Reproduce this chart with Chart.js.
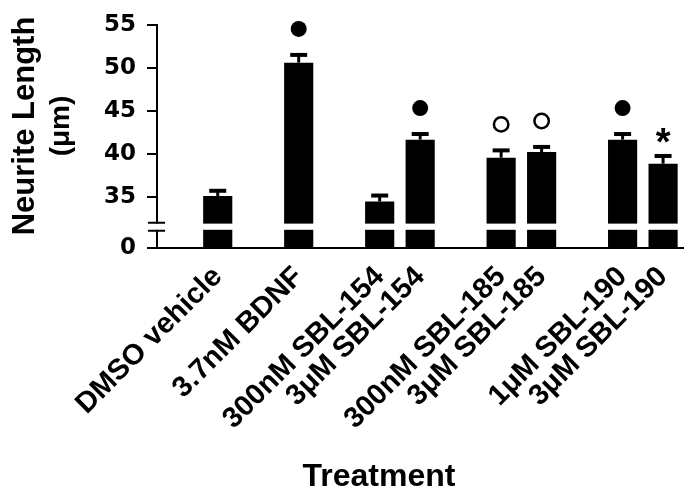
<!DOCTYPE html>
<html>
<head>
<meta charset="utf-8">
<script src="https://cdn.jsdelivr.net/npm/chart.js@4"></script>
<style>
  html, body { margin: 0; padding: 0; background: #fff; }
  #wrap { width: 692px; height: 495px; }
</style>
</head>
<body>
<div id="wrap"><canvas id="myChart"></canvas></div>
<script>
var categories = ["DMSO vehicle", "3.7nM BDNF", "300nM SBL-154", "3μM SBL-154",
  "300nM SBL-185", "3μM SBL-185", "1μM SBL-190", "3μM SBL-190"];
var groups = [0, 1, 2, 2, 3, 3, 4, 4];
var neuriteLength = [35.1, 50.6, 34.45, 41.65, 39.55, 40.2, 41.65, 38.85];
var sem = [0.6, 0.9, 0.7, 0.65, 0.85, 0.6, 0.65, 0.9];
var marks = ["", "●", "", "●", "○", "○", "●", "*"];
var yTicks = [0, 35, 40, 45, 50, 55];

// broken y axis: 0-2 kept as is, 32-55 pulled down next to it
var breakLow = 2, breakHigh = 32, shift = 29.05;
function toAxis(v) { return v <= breakLow ? v : v - shift; }

// blank slot before every group gives the gaps between bars
var labels = [], values = [], slotOf = [];
var last = -1;
categories.forEach(function (c, i) {
  if (groups[i] !== last) { labels.push(""); values.push(null); last = groups[i]; }
  slotOf.push(labels.length);
  labels.push(c);
  values.push(toAxis(neuriteLength[i]));
});

var ARIAL = "'Liberation Sans', Arial, sans-serif";

var extras = {
  id: "extras",
  afterDatasetsDraw: function (chart) {
    var c = chart.ctx, y = chart.scales.y, area = chart.chartArea;
    var meta = chart.getDatasetMeta(0);
    c.save();
    var yTop = y.getPixelForValue(breakHigh - shift), yBot = y.getPixelForValue(breakLow);
    c.fillStyle = "#fff";
    c.fillRect(area.left - 12, yTop + 1, area.right - area.left + 14, yBot - yTop - 2);
    c.strokeStyle = "#000";
    c.fillStyle = "#000";
    c.lineWidth = 2;
    c.beginPath();
    c.moveTo(area.left - 9, yTop); c.lineTo(area.left + 8, yTop);
    c.moveTo(area.left - 9, yBot); c.lineTo(area.left + 8, yBot);
    c.stroke();

    categories.forEach(function (cat, i) {
      var bar = meta.data[slotOf[i]];
      var top = y.getPixelForValue(toAxis(neuriteLength[i]));
      var cap = y.getPixelForValue(toAxis(neuriteLength[i] + sem[i]));
      c.lineWidth = 3;
      c.beginPath(); c.moveTo(bar.x, top); c.lineTo(bar.x, cap); c.stroke();
      c.lineWidth = 4;
      c.beginPath(); c.moveTo(bar.x - 8.5, cap); c.lineTo(bar.x + 8.5, cap); c.stroke();

      if (marks[i] === "●") {
        c.beginPath(); c.arc(bar.x, cap - 26, 8, 0, Math.PI * 2); c.fill();
      } else if (marks[i] === "○") {
        c.lineWidth = 2.5;
        c.beginPath(); c.arc(bar.x, cap - 26, 7.2, 0, Math.PI * 2); c.stroke();
      } else if (marks[i]) {
        c.font = "bold 38px " + ARIAL;
        c.textAlign = "center";
        c.textBaseline = "alphabetic";
        var m = c.measureText(marks[i]);
        var cy = cap - 20;
        c.fillText(marks[i], bar.x, cy + (m.actualBoundingBoxAscent - m.actualBoundingBoxDescent) / 2);
      }
    });
    c.restore();
  },
  afterDraw: function (chart) {
    var c = chart.ctx;
    c.save();
    c.fillStyle = "#000";
    c.textAlign = "center";
    c.textBaseline = "alphabetic";
    c.font = "bold 32px " + ARIAL;
    c.fillText("Treatment", 379, 486);
    // y axis title, two lines
    c.translate(0, 126);
    c.rotate(-Math.PI / 2);
    c.textBaseline = "middle";
    c.font = "bold 31px " + ARIAL;
    c.fillText("Neurite Length", 0, 25);
    c.font = "bold 28px " + ARIAL;
    c.fillText("(μm)", 0, 61);
    c.restore();
  }
};

var ctx = document.getElementById("myChart").getContext("2d");
var myChart = new Chart(ctx, {
  type: "bar",
  data: {
    labels: labels,
    datasets: [
      {
        label: "Neurite Length",
        data: values,
        backgroundColor: "#000",
        borderWidth: 0,
      },
    ],
  },
  options: {
    responsive: true,
    maintainAspectRatio: false,
    animation: false,
    layout: { padding: { top: 17, right: 8, bottom: 0, left: 0 } },
    plugins: {
      legend: { display: false },
      tooltip: { enabled: false },
    },
    scales: {
      x: {
        grid: { display: false },
        border: { display: true, color: "#000", width: 2 },
        ticks: {
          color: "#000",
          autoSkip: false,
          minRotation: 45,
          maxRotation: 45,
          padding: 4,
          font: { family: ARIAL, size: 29, weight: "bold" },
        },
        afterFit: function (scale) { scale.height = 247; },
      },
      y: {
        min: 0,
        max: toAxis(55),
        grid: { drawOnChartArea: false, drawTicks: true, tickLength: 10, color: "#000", lineWidth: 2 },
        border: { display: true, color: "#000", width: 2 },
        afterBuildTicks: function (scale) {
          scale.ticks = yTicks.map(function (v) { return { value: toAxis(v) }; });
        },
        ticks: {
          color: "#000",
          padding: 11,
          font: { family: "'DejaVu Sans', sans-serif", size: 23, weight: "bold" },
          callback: function (value, index) { return String(yTicks[index]); },
        },
        afterFit: function (scale) { scale.width = 157; },
      },
    },
  },
  plugins: [extras],
});
</script>
</body>
</html>
